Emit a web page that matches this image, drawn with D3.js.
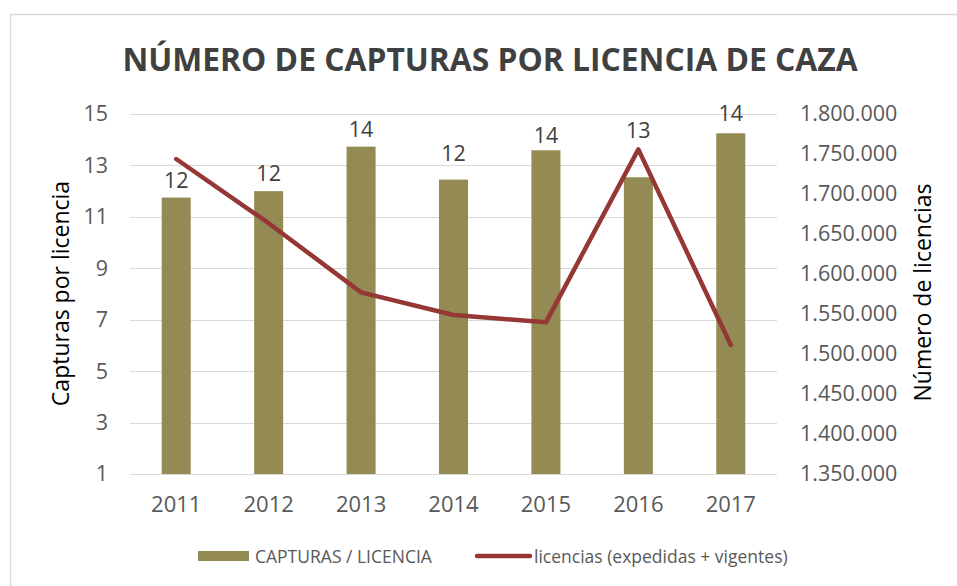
<!DOCTYPE html>
<html>
<head>
<meta charset="utf-8">
<script src="https://cdn.jsdelivr.net/npm/d3@7"></script>
<style>
  html, body { margin: 0; padding: 0; background: #fff; }
  svg { display: block; }
  text { font-family: "Open Sans", "Noto Sans", sans-serif; }
</style>
</head>
<body>
<svg id="chart" width="957" height="586"></svg>
<script>
const years = ["2011", "2012", "2013", "2014", "2015", "2016", "2017"];
const capturasPorLicencia = [11.75, 12.0, 13.73, 12.45, 13.59, 12.54, 14.25];
const licencias = [1743750, 1663500, 1577000, 1548800, 1539600, 1755800, 1511300];
const leftTicks = [1, 3, 5, 7, 9, 11, 13, 15];
const rightTicks = [1350000, 1400000, 1450000, 1500000, 1550000, 1600000, 1650000, 1700000, 1750000, 1800000];
const titleText = "NÚMERO DE CAPTURAS POR LICENCIA DE CAZA";
const leftAxisTitle = "Capturas por licencia";
const rightAxisTitle = "Número de licencias";
const legendLabels = ["CAPTURAS / LICENCIA", "licencias (expedidas + vigentes)"];

const barColor = "#948A54";
const lineColor = "#953735";
const gridColor = "#d9d9d9";
const tickColor = "#595959";
// gap (px) between bar top and its data label, as placed in the original
const labelGap = [10, 10, 10, 18.5, 7.5, 39.5, 12];

const svg = d3.select("#chart");
const W = 957, H = 586;
const plot = { left: 130, right: 777, top: 114, bottom: 474 };

// border
svg.append("path")
  .attr("d", `M${W + 2},14.5 H10.5 V${H + 2}`)
  .attr("fill", "none").attr("stroke", "#d9d9d9").attr("stroke-width", 1.5);

const x = d3.scaleBand().domain(years).range([plot.left, plot.right])
  .paddingInner(0.686).paddingOuter(0.343);
const yL = d3.scaleLinear().domain([1, 15]).range([plot.bottom, plot.top]);
const yR = d3.scaleLinear().domain([1350000, 1800000]).range([plot.bottom, plot.top]);

const locale = d3.formatLocale({ decimal: ",", thousands: ".", grouping: [3], currency: ["", ""] });
const fmtR = locale.format(",.0f");

// gridlines
svg.append("g").selectAll("line").data(leftTicks).join("line")
  .attr("x1", plot.left).attr("x2", plot.right)
  .attr("y1", d => Math.round(yL(d)) + 0.5).attr("y2", d => Math.round(yL(d)) + 0.5)
  .attr("stroke", gridColor).attr("stroke-width", 1);

// left axis
const axL = svg.append("g").attr("transform", `translate(${plot.left},0)`)
  .call(d3.axisLeft(yL).tickValues(leftTicks).tickSize(0).tickPadding(22));
axL.select(".domain").remove();
axL.selectAll("text").attr("fill", tickColor).style("font-size", "21.5px")
  .style("font-family", "'Open Sans', sans-serif");

// right axis
const axR = svg.append("g").attr("transform", `translate(${plot.right},0)`)
  .call(d3.axisRight(yR).tickValues(rightTicks).tickSize(0).tickPadding(23).tickFormat(fmtR));
axR.select(".domain").remove();
axR.selectAll("text").attr("fill", tickColor).style("font-size", "21.5px")
  .style("font-family", "'Open Sans', sans-serif");

// x axis
const axX = svg.append("g").attr("transform", `translate(0,${plot.bottom})`)
  .call(d3.axisBottom(x).tickSize(0).tickPadding(22));
axX.select(".domain").remove();
axX.selectAll("text").attr("fill", tickColor).style("font-size", "22px")
  .style("font-family", "'Open Sans', sans-serif");

// bars
const data = years.map((y, i) => ({ year: y, v: capturasPorLicencia[i], l: licencias[i], gap: labelGap[i] }));
svg.append("g").selectAll("rect").data(data).join("rect")
  .attr("x", d => x(d.year)).attr("width", x.bandwidth())
  .attr("y", d => yL(d.v)).attr("height", d => yL(1) - yL(d.v))
  .attr("fill", barColor);

// line
const line = d3.line().x(d => x(d.year) + x.bandwidth() / 2).y(d => yR(d.l));
svg.append("path").datum(data).attr("d", line)
  .attr("fill", "none").attr("stroke", lineColor).attr("stroke-width", 4.5)
  .attr("stroke-linejoin", "round").attr("stroke-linecap", "round");

// data labels
svg.append("g").selectAll("text").data(data).join("text")
  .attr("x", d => x(d.year) + x.bandwidth() / 2)
  .attr("y", d => yL(d.v) - d.gap)
  .attr("text-anchor", "middle")
  .attr("fill", "#404040").style("font-size", "21.5px")
  .text(d => d3.format(".0f")(d.v));

// title
svg.append("text").attr("x", 490).attr("y", 71).attr("text-anchor", "middle")
  .attr("fill", "#404040").style("font-size", "31.8px").style("font-weight", "bold")
  .text(titleText);

// axis titles
svg.append("text").attr("transform", `translate(69,${(180 + 407) / 2}) rotate(-90)`)
  .attr("text-anchor", "middle").attr("fill", "#000").style("font-size", "23px")
  .text(leftAxisTitle);
svg.append("text").attr("transform", `translate(931,${(183 + 402) / 2}) rotate(-90)`)
  .attr("text-anchor", "middle").attr("fill", "#000").style("font-size", "23px")
  .text(rightAxisTitle);

// legend
const lg = svg.append("g");
lg.append("rect").attr("x", 198).attr("y", 551).attr("width", 51).attr("height", 10).attr("fill", barColor);
lg.append("text").attr("x", 255).attr("y", 562.5).attr("fill", tickColor).style("font-size", "17.5px")
  .text(legendLabels[0]);
lg.append("line").attr("x1", 477).attr("x2", 530).attr("y1", 556).attr("y2", 556)
  .attr("stroke", lineColor).attr("stroke-width", 4.5).attr("stroke-linecap", "round");
lg.append("text").attr("x", 534).attr("y", 562.5).attr("fill", tickColor).style("font-size", "17.5px")
  .text(legendLabels[1]);
</script>
</body>
</html>
